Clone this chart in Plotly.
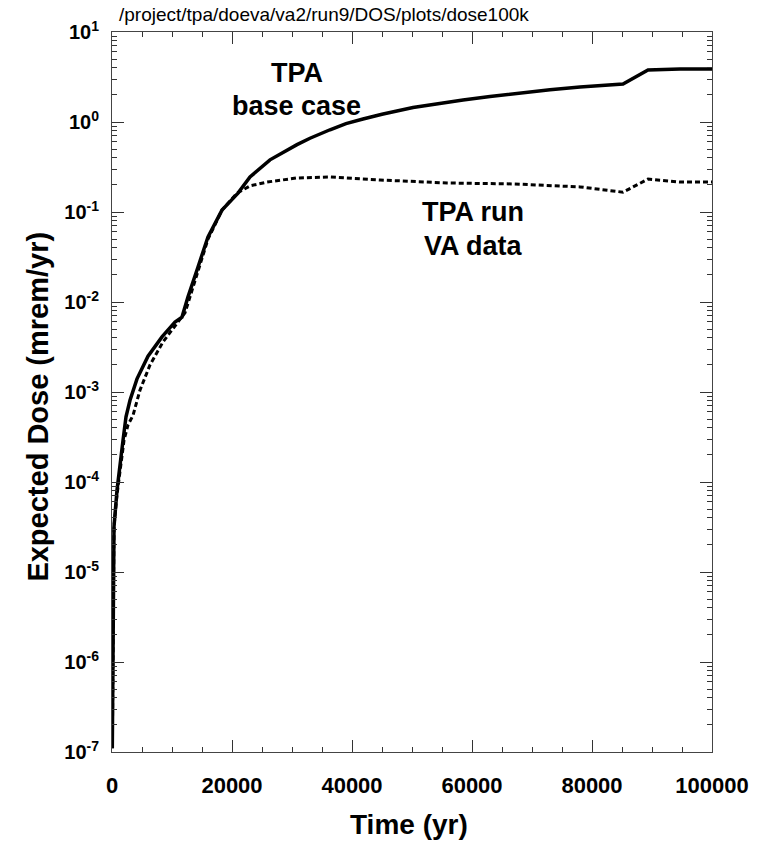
import plotly.graph_objects as go

# Time (yr) and expected dose (mrem/yr)
base_time = [50, 100, 167, 217, 267, 333, 833, 1333, 1833, 2333, 3000, 4167, 6000, 8333,
             10500, 11667, 12667, 14333, 16000, 18333, 21000, 23000, 26333, 30833, 33000,
             36333, 39000, 41833, 45000, 50167, 54000, 58500, 63000, 68000, 73000, 78000,
             85167, 89333, 94667, 100000]
base_dose = [1.1e-7, 3.8e-7, 1.7e-6, 6.3e-6, 2.3e-5, 3.2e-5, 8.1e-5, 1.7e-4, 2.9e-4, 5.3e-4,
             8.1e-4, 1.4e-3, 2.5e-3, 4.1e-3, 6.0e-3, 6.8e-3, 1.14e-2, 2.45e-2, 5.3e-2, 0.105,
             0.162, 0.245, 0.38, 0.56, 0.66, 0.82, 0.96, 1.08, 1.22, 1.45, 1.6, 1.76, 1.92,
             2.1, 2.28, 2.45, 2.64, 3.78, 3.87, 3.87]

va_time = [50, 100, 167, 217, 267, 333, 833, 1333, 2000, 2667, 3500, 4667, 6333, 8500,
           11000, 12167, 13000, 14333, 16000, 18333, 20833, 23000, 25833, 30833, 36333,
           44667, 55833, 66833, 78000, 85167, 89333, 94667, 100000]
va_dose = [1.1e-7, 3.8e-7, 1.7e-6, 6.3e-6, 2.3e-5, 3.2e-5, 7.2e-5, 1.36e-4, 2.9e-4, 4.3e-4,
           5.5e-4, 1.05e-3, 2.0e-3, 3.6e-3, 6.0e-3, 7.6e-3, 1.14e-2, 2.2e-2, 5.0e-2, 0.105,
           0.162, 0.195, 0.215, 0.239, 0.245, 0.227, 0.21, 0.205, 0.19, 0.166, 0.232, 0.215,
           0.215]

x_ticks = [0, 20000, 40000, 60000, 80000, 100000]
x_tick_labels = ["0", "20000", "40000", "60000", "80000", "100000"]
y_ticks = [1e-7, 1e-6, 1e-5, 1e-4, 1e-3, 1e-2, 1e-1, 1e0, 1e1]
y_tick_labels = ["10<sup>-7</sup>", "10<sup>-6</sup>", "10<sup>-5</sup>", "10<sup>-4</sup>",
                 "10<sup>-3</sup>", "10<sup>-2</sup>", "10<sup>-1</sup>", "10<sup>0</sup>",
                 "10<sup>1</sup>"]
x_minor = list(range(0, 100001, 5000))
y_minor = [m * 10.0 ** e for e in range(-7, 1) for m in range(2, 10)]

FONT = "Liberation Sans, Arial, sans-serif"

fig = go.Figure()
fig.add_trace(go.Scatter(x=base_time, y=base_dose, mode="lines",
                         line=dict(color="black", width=3.5), showlegend=False))
fig.add_trace(go.Scatter(x=va_time, y=va_dose, mode="lines",
                         line=dict(color="black", width=3, dash="5px,3px"), showlegend=False))

axis_common = dict(showline=True, linecolor="#444", linewidth=1, mirror="ticks",
                   showgrid=False, zeroline=False, ticks="inside", tickcolor="#333",
                   ticklen=12, tickwidth=1)

fig.update_xaxes(range=[0, 100000], tickvals=x_ticks, ticktext=x_tick_labels,
                 tickfont=dict(family=FONT, size=22, color="black", weight="bold"),
                 ticklabelstandoff=14,
                 minor=dict(tickvals=x_minor, ticks="inside", ticklen=5, tickcolor="#333"),
                 **axis_common)
fig.update_yaxes(type="log", range=[-7, 1], tickvals=y_ticks, ticktext=y_tick_labels,
                 tickfont=dict(family=FONT, size=20, color="black", weight="bold"),
                 ticklabelstandoff=8,
                 minor=dict(tickvals=y_minor, ticks="inside", ticklen=5, tickcolor="#333"),
                 **axis_common)

ann_font = dict(family=FONT, size=27, color="black", weight="bold")
annotations = [
    dict(text="TPA", x=0.308, y=0.943),
    dict(text="base case", x=0.307, y=0.897),
    dict(text="TPA run", x=0.602, y=0.750),
    dict(text="VA data", x=0.602, y=0.703),
]
for a in annotations:
    fig.add_annotation(xref="paper", yref="paper", showarrow=False, font=ann_font,
                       xanchor="center", yanchor="middle", **a)

fig.add_annotation(text="Expected Dose (mrem/yr)", xref="paper", yref="paper",
                   x=-0.123, y=0.48, textangle=-90, showarrow=False,
                   font=dict(family=FONT, size=29, color="black", weight="bold"),
                   xanchor="center", yanchor="middle")
fig.add_annotation(text="Time (yr)", xref="paper", yref="paper", x=0.495, y=-0.1,
                   showarrow=False,
                   font=dict(family=FONT, size=28, color="black", weight="bold"),
                   xanchor="center", yanchor="middle")
fig.add_annotation(text="/project/tpa/doeva/va2/run9/DOS/plots/dose100k", xref="paper",
                   yref="paper", x=0.008, y=1.025, showarrow=False,
                   font=dict(family=FONT, size=19, color="black"),
                   xanchor="left", yanchor="middle")

fig.update_layout(width=758, height=843, plot_bgcolor="white", paper_bgcolor="white",
                  margin=dict(l=112, r=46, t=32, b=91, autoexpand=False))

fig.write_html("out.html", config={"displayModeBar": False},
               post_script="document.body.style.margin='0';")
